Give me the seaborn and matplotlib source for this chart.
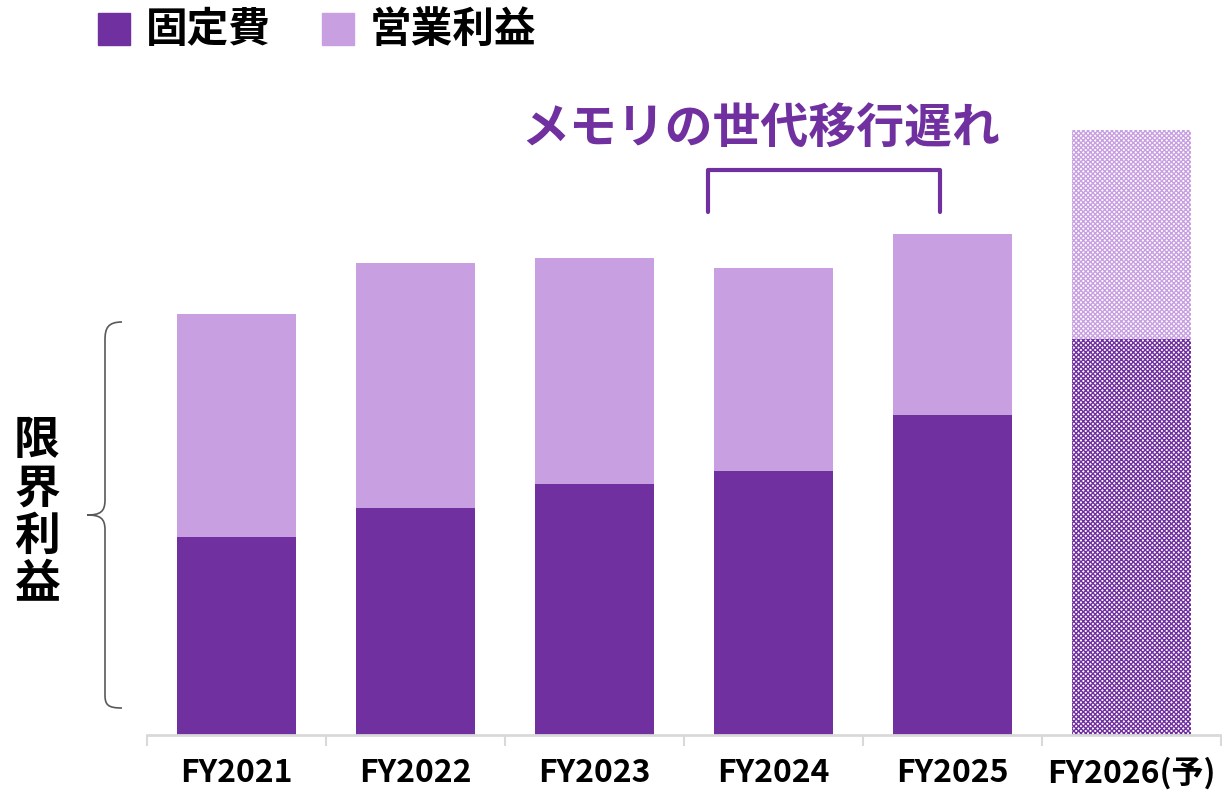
import matplotlib
matplotlib.use('Agg')
import matplotlib.pyplot as plt
import seaborn as sns
import pandas as pd
from matplotlib.path import Path
from matplotlib.patches import PathPatch

# data (arbitrary units)
years = ['FY2021', 'FY2022', 'FY2023', 'FY2024', 'FY2025', 'FY2026(予)']
fixed_cost = [198, 227, 251, 264, 320, 396]
op_profit = [223, 245, 226, 203, 181, 209]

dark = '#7030A0'
light = '#C8A0E2'

sns.set_theme(style='white')
plt.rcParams['font.family'] = ['Noto Sans CJK JP', 'DejaVu Sans']
plt.rcParams['text.color'] = 'black'
plt.rcParams['xtick.color'] = 'black'

df = pd.DataFrame({'year': years, 'fixed': fixed_cost, 'profit': op_profit})
df['total'] = df['fixed'] + df['profit']

W, H = 1222, 799
fig = plt.figure(figsize=(W / 100, H / 100), dpi=100)
ax = fig.add_axes([147 / W, 64 / H, 1074 / W, 735 / H])

sns.barplot(data=df, x='year', y='total', color=light, width=0.665,
            saturation=1, linewidth=0, ax=ax)
n = len(ax.patches)
sns.barplot(data=df, x='year', y='fixed', color=dark, width=0.665,
            saturation=1, linewidth=0, ax=ax)

# forecast bar is hatched
plt.rcParams['hatch.linewidth'] = 1.2
top_p = ax.patches[n - 1]
bot_p = ax.patches[-1]
for p, c in [(top_p, light), (bot_p, dark)]:
    p.set_facecolor('white')
    p.set_edgecolor(c)
    p.set_hatch('xxxxxxx')
    p.set_linewidth(0)

ax.set_xlim(-0.5, 5.5)
ax.set_ylim(0, 735)
ax.set_xlabel('')
ax.set_ylabel('')
ax.set_yticks([])
for s in ['left', 'right', 'top']:
    ax.spines[s].set_visible(False)
ax.spines['bottom'].set_color('#d9d9d9')
ax.spines['bottom'].set_linewidth(2)

ax.set_xticks(range(len(years)))
ax.set_xticklabels(years, fontsize=23, fontweight='bold', color='black')
ax.tick_params(axis='x', which='major', length=0, pad=16)
ax.set_xticks([i - 0.5 for i in range(len(years) + 1)], minor=True)
ax.tick_params(axis='x', which='minor', length=8, width=1.5,
               color='#d9d9d9', bottom=True)

# legend
fig.patches.append(plt.Rectangle((98 / W, 1 - 45 / H), 32 / W, 32 / H,
                                 transform=fig.transFigure, color=dark))
fig.text(146 / W, 1 - 30 / H, '固定費', fontsize=30, fontweight='bold',
         va='center', ha='left')
fig.patches.append(plt.Rectangle((322 / W, 1 - 45 / H), 32 / W, 32 / H,
                                 transform=fig.transFigure, color=light))
fig.text(370 / W, 1 - 30 / H, '営業利益', fontsize=30, fontweight='bold',
         va='center', ha='left')

# annotation and bracket
fig.text(761 / W, 1 - 128 / H, 'メモリの世代移行遅れ', fontsize=34.5,
         fontweight='bold', color=dark, ha='center', va='center')
bx = [708, 708, 940, 940]
by = [212, 170, 170, 212]
fig.add_artist(plt.Line2D([x / W for x in bx], [1 - y / H for y in by],
                          color=dark, lw=3, transform=fig.transFigure))

# left curly brace
pts = [(122, 322), (108, 322), (105, 328), (105, 340),
       (105, 500), (105, 512), (100, 515), (87, 515),
       (100, 515), (105, 518), (105, 530),
       (105, 695), (105, 705), (108, 708), (122, 708)]
codes = [Path.MOVETO, Path.CURVE4, Path.CURVE4, Path.CURVE4,
         Path.LINETO, Path.CURVE4, Path.CURVE4, Path.CURVE4,
         Path.CURVE4, Path.CURVE4, Path.CURVE4,
         Path.LINETO, Path.CURVE4, Path.CURVE4, Path.CURVE4]
brace = Path([(x / W, 1 - y / H) for x, y in pts], codes)
fig.patches.append(PathPatch(brace, fill=False, edgecolor='#595959', lw=1.2,
                             transform=fig.transFigure))

fig.text(37 / W, 1 - 513 / H, '限\n界\n利\n益', fontsize=33, fontweight='bold',
         ha='center', va='center', linespacing=1.05)

fig.savefig('out.png', dpi=100)
